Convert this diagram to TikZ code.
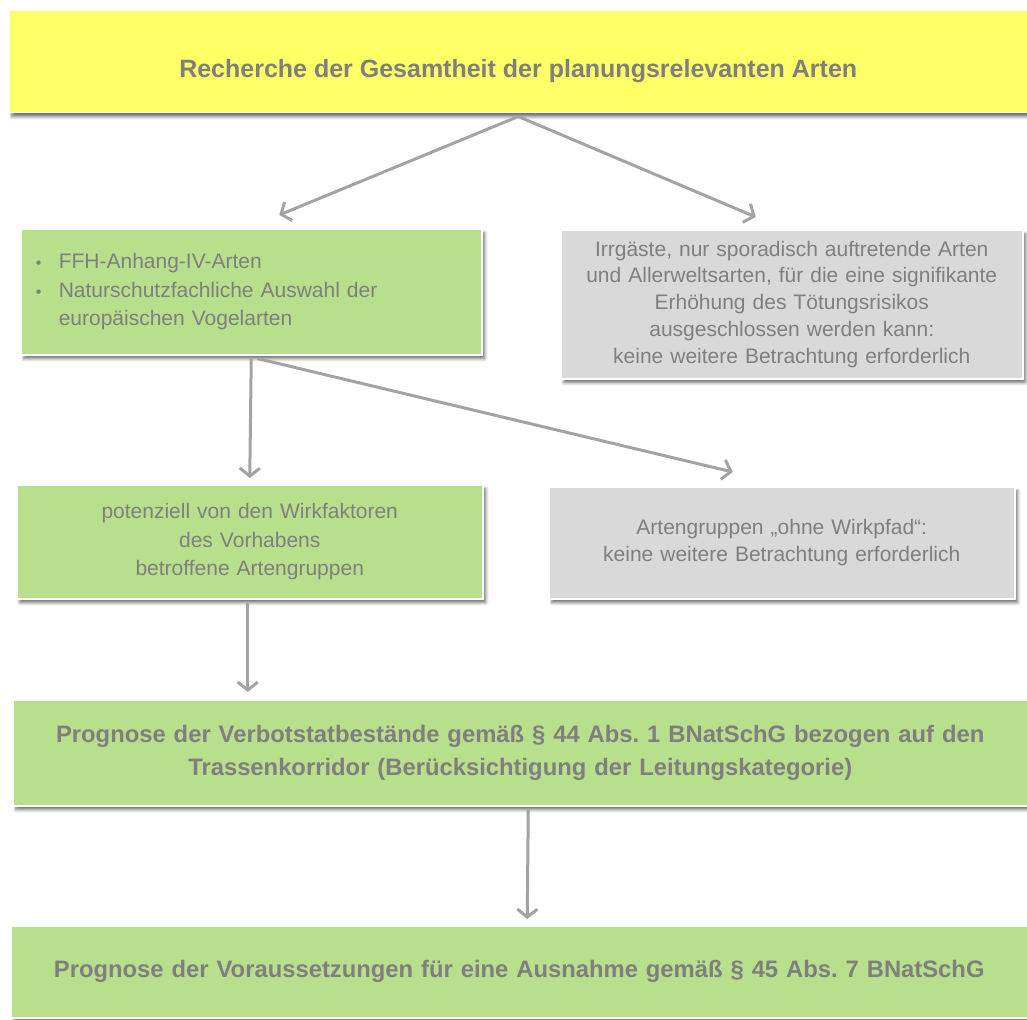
\documentclass[tikz,border=0pt]{standalone}
\usepackage{fontspec}
\setmainfont{Liberation Sans}
\usepackage{tikz}
\usepackage{xcolor}
\usetikzlibrary{arrows.meta,shadows.blur}
\frenchspacing
\definecolor{boxyellow}{HTML}{FFFF66}
\definecolor{boxgreen}{HTML}{B8DF8C}
\definecolor{boxgray}{HTML}{D9D9D9}
\definecolor{textgray}{HTML}{7F7F7F}
\definecolor{arrowgray}{HTML}{A3A3A3}
\tikzset{
>={Straight Barb[length=8pt,width=20pt,line width=3pt]},
  box/.style={
    rectangle,
    anchor=north west,
    draw=white, line width=1.5pt,
    inner sep=0pt,
    text=textgray,
    align=center,
    blur shadow={shadow xshift=3pt, shadow yshift=-4pt, shadow blur radius=3pt, shadow opacity=55}},
  myarrow/.style={draw=arrowgray, line width=3pt, ->},
}

\begin{document}
\begin{tikzpicture}[x=1pt, y=-1pt]
      \tikzset{
          start/.style={box, fill=boxyellow, font=\bfseries\fontsize{25}{30}\selectfont},
          keep/.style={box, fill=boxgreen, font=\fontsize{21}{28.5}\selectfont},
          drop/.style={box, fill=boxgray, font=\fontsize{21}{26.7}\selectfont},
          result/.style={box, fill=boxgreen, font=\bfseries\fontsize{23.8}{33}\selectfont},
      }
      \useasboundingbox (0,0) rectangle (1027,1019);

      \node[start, minimum width=1019pt, minimum height=102pt, text height=36pt, text depth=4pt] (recherche) at (8,10)
          {Recherche der Gesamtheit der planungsrelevanten Arten};
      \node[keep, minimum width=461pt, minimum height=126pt, text width=431pt, align=left] (arten) at (20,228)
          {\makebox[23pt][l]{\fontsize{16}{16}\selectfont •}FFH-Anhang-IV-Arten\\
           \makebox[23pt][l]{\fontsize{16}{16}\selectfont •}Naturschutzfachliche Auswahl der\\
           \hspace*{23pt}europäischen Vogelarten};
      \node[drop, minimum width=462pt, minimum height=149pt, text width=450pt] (irrgaeste) at (560,229)
          {Irrgäste, nur sporadisch auftretende Arten\\
           und Allerweltsarten, für die eine signifikante\\
           Erhöhung des Tötungsrisikos\\
           ausgeschlossen werden kann:\\
           keine weitere Betrachtung erforderlich};
      \node[keep, minimum width=466pt, minimum height=114pt, text width=440pt] (betroffen) at (16,484)
          {potenziell von den Wirkfaktoren\\
           des Vorhabens\\
           betroffene Artengruppen};
      \node[drop, minimum width=466pt, minimum height=112pt, text width=440pt] (ohnepfad) at (548,486)
          {Artengruppen „ohne Wirkpfad“:\\
           keine weitere Betrachtung erforderlich};
      \node[result, minimum width=1015pt, minimum height=106pt, text width=1000pt] (prognose) at (12,699)
          {Prognose der Verbotstatbestände gemäß § 44 Abs. 1 BNatSchG bezogen auf den\\
           Trassenkorridor (Berücksichtigung der Leitungskategorie)};
      \node[result, minimum width=1017pt, minimum height=92pt, text width=1000pt] (ausnahme) at (10,925)
          {Prognose der Voraussetzungen für eine Ausnahme gemäß § 45 Abs. 7 BNatSchG};

      \path[myarrow] ([yshift=-3pt]recherche.south) -- ([xshift=28pt,yshift=13pt]arten.north);
      \path[myarrow] ([yshift=-3pt]recherche.south) -- ([xshift=-36pt,yshift=12pt]irrgaeste.north);
      \path[myarrow] ([yshift=-3pt]arten.south) -- ([yshift=6pt]betroffen.north);
      \path[myarrow] ([xshift=6pt,yshift=-3pt]arten.south) -- ([xshift=-49pt,yshift=14pt]ohnepfad.north);
      \path[myarrow] ([xshift=-2pt,yshift=-3pt]betroffen.south) -- ([xshift=-2pt,yshift=7pt]betroffen.south |- prognose.north);
      \path[myarrow] ([xshift=8pt,yshift=-3pt]prognose.south) -- ([xshift=8pt,yshift=6pt]ausnahme.north);

\end{tikzpicture}
\end{document}
